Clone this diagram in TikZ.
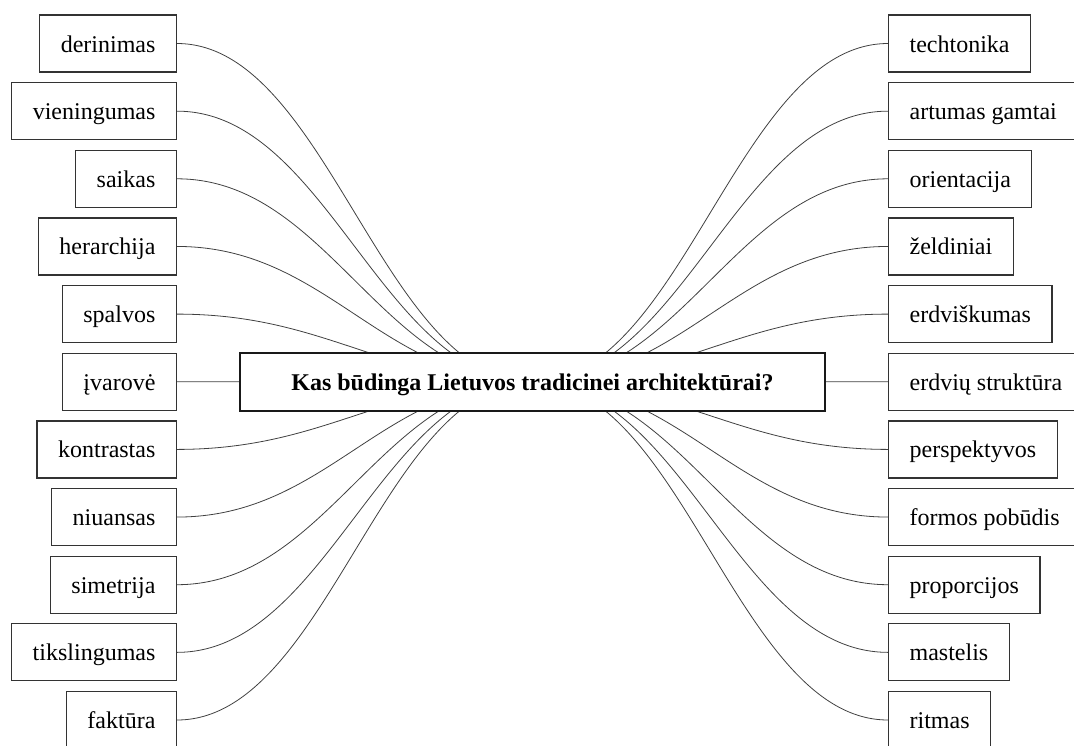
\documentclass[tikz,border=0pt]{standalone}
\usepackage{fontspec}
\setmainfont{Liberation Serif}
\usetikzlibrary{backgrounds}
\begin{document}
\begin{tikzpicture}[x=1pt,y=-1pt,
  item/.style={draw=black!80, line width=1.2pt, minimum height=57pt, inner xsep=21pt, inner ysep=0pt,
    text height=17pt, text depth=0pt, font=\fontsize{24}{28}\selectfont, fill=white},
  hub/.style={draw=black!90, line width=2.2pt, minimum width=585pt, minimum height=58pt, inner sep=0pt,
    text height=17pt, text depth=0pt, font=\fontsize{24}{28}\selectfont\bfseries, fill=white},
  link/.style={draw=black!75, line width=0.8pt}]
\useasboundingbox (0,0) rectangle (1074,745);
\clip (0,0) rectangle (1074,745);
\node[hub] (c) at (532.5,382) {Kas būdinga Lietuvos tradicinei architektūrai?};
\foreach \t [count=\i from 0] in {derinimas,vieningumas,saikas,herarchija,spalvos,įvarovė,kontrastas,niuansas,simetrija,tikslingumas,faktūra}
  {\node[item, anchor=east] (L\i) at (177, 43.5+67.65*\i) {\t};}
\foreach \t [count=\i from 0] in {techtonika,artumas gamtai,orientacija,želdiniai,erdviškumas,erdvių struktūra,perspektyvos,formos pobūdis,proporcijos,mastelis,ritmas}
  {\node[item, anchor=west] (R\i) at (888, 43.5+67.65*\i) {\t};}
\begin{pgfonlayer}{background}
\foreach \i in {0,...,10}{
  \draw[link] (L\i.east) .. controls +(150,0) and +(-150,0) .. (c.center);
  \draw[link] (R\i.west) .. controls +(-150,0) and +(150,0) .. (c.center);
}
\end{pgfonlayer}
\end{tikzpicture}
\end{document}
